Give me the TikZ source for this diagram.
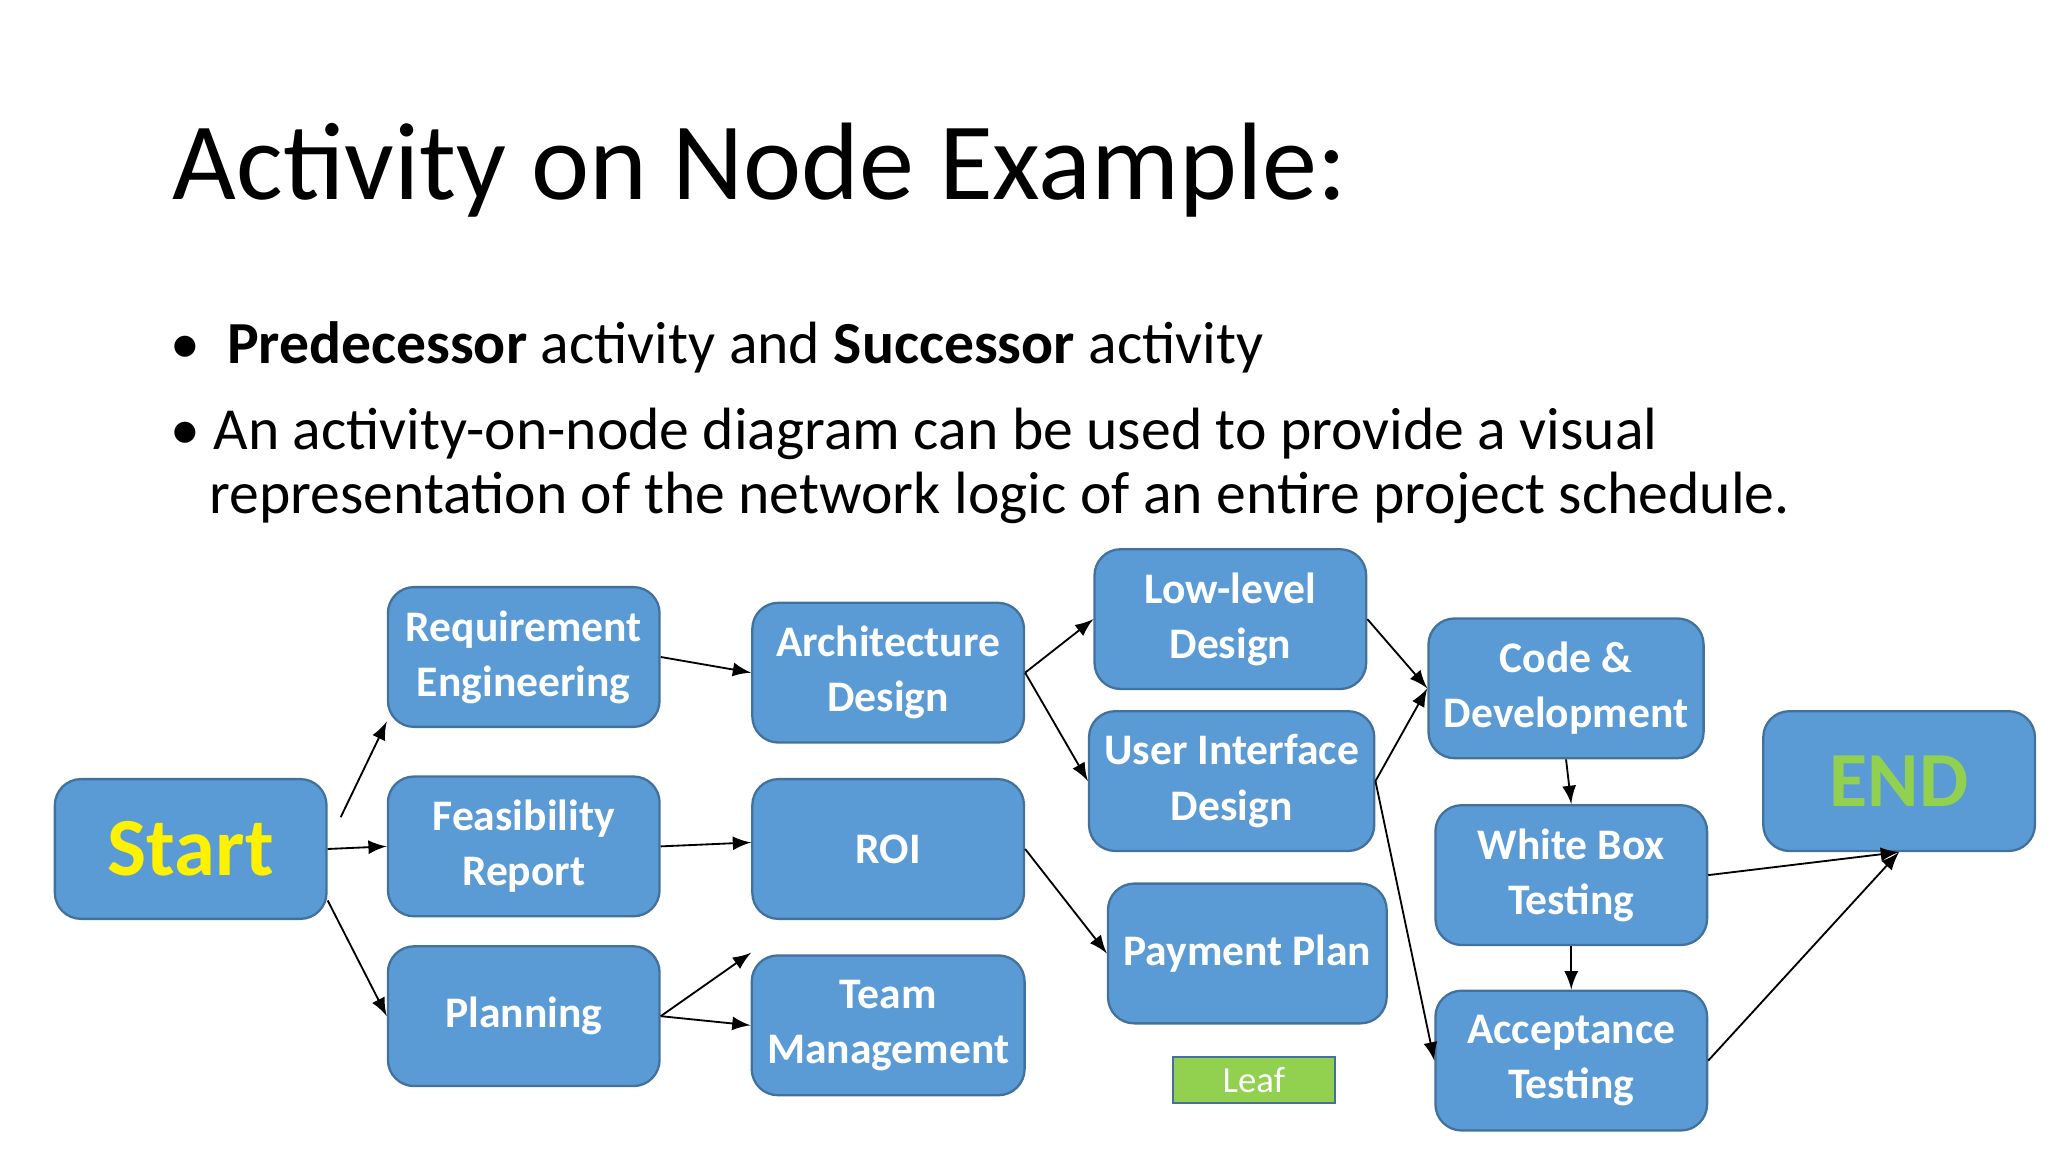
\documentclass[tikz,border=0pt]{standalone}
\usepackage{fontspec}
\setmainfont{Carlito}
\definecolor{boxfill}{HTML}{5B9BD5}
\definecolor{boxline}{HTML}{41719C}
\definecolor{leafgreen}{HTML}{92D050}
\begin{document}
\begin{tikzpicture}[x=0.1mm,y=-0.1mm,
  act/.style={rectangle,rounded corners=2mm,draw=boxline,fill=boxfill,line width=0.5pt,
    minimum width=20.8mm,minimum height=10.7mm,text=white,align=center,
    font=\fontsize{9.5}{12}\selectfont\bfseries},
  arr/.style={-latex,line width=0.4pt}]
\useasboundingbox (0,0) rectangle (1568,882);

% title and bullets
\node[anchor=base west,font=\fontsize{24}{28}\selectfont] (title) at (120,153) {Activity on Node Example:};
\node[anchor=base west,font=\fontsize{13}{16}\selectfont] (b1) at (118,278)
  {\textbullet\ \ \textbf{Predecessor} activity and \textbf{Successor} activity};
\node[anchor=base west,font=\fontsize{13}{16}\selectfont] (b2) at (118,344)
  {\textbullet\ An activity-on-node diagram can be used to provide a visual};
\node[anchor=base west,font=\fontsize{13}{16}\selectfont] (b3) at (148,393)
  {representation of the network logic of an entire project schedule.};

% activities
\node[act,font=\fontsize{18}{20}\selectfont\bfseries,text=yellow] (start) at (146,650) {Start};
\node[act] (req) at (401,503) {Requirement\\Engineering};
\node[act] (feas) at (401,648) {Feasibility\\Report};
\node[act] (plan) at (401,778) {Planning};
\node[act] (arch) at (680,515) {Architecture\\Design};
\node[act] (roi) at (680,650) {ROI};
\node[act] (team) at (680,785) {Team\\Management};
\node[act] (low) at (942,474) {Low-level\\Design};
\node[act] (ui) at (943,598) {User Interface\\Design};
\node[act] (pay) at (955,730) {Payment Plan};
\node[rectangle,draw=boxline,fill=leafgreen,minimum width=12.4mm,minimum height=3.5mm,
  inner sep=0pt,text=white,font=\fontsize{8}{9}\selectfont] (leaf) at (960,827) {Leaf};
\node[act] (code) at (1199,527) {Code \&\\Development};
\node[act] (wbt) at (1203,670) {White Box\\Testing};
\node[act] (acc) at (1203,812) {Acceptance\\Testing};
\node[act,font=\fontsize{17}{20}\selectfont\bfseries,text=leafgreen] (end) at (1454,598) {END};

% connectors
\draw[arr] ([xshift=1mm,yshift=-3mm]start.north east) -- ([yshift=0.5mm]req.south west);
\draw[arr] (start.east) -- (feas.west);
\draw[arr] ([yshift=1.5mm]start.south east) -- (plan.west);
\draw[arr] (req.east) -- (arch.west);
\draw[arr] (feas.east) -- ([yshift=0.5mm]roi.west);
\draw[arr] (plan.east) -- ([yshift=-2.5mm]roi.south west);
\draw[arr] (plan.east) -- (team.west);
\draw[arr] (arch.east) -- (low.west);
\draw[arr] (arch.east) -- (ui.west);
\draw[arr] (roi.east) -- (pay.west);
\draw[arr] (low.east) -- (code.west);
\draw[arr] (ui.east) -- (code.west);
\draw[arr] (ui.east) -- (acc.west);
\draw[arr] (code.south) -- (wbt.north);
\draw[arr] (wbt.south) -- (acc.north);
\draw[arr] (wbt.east) -- (end.south);
\draw[arr] (acc.east) -- (end.south);
\end{tikzpicture}
\end{document}
